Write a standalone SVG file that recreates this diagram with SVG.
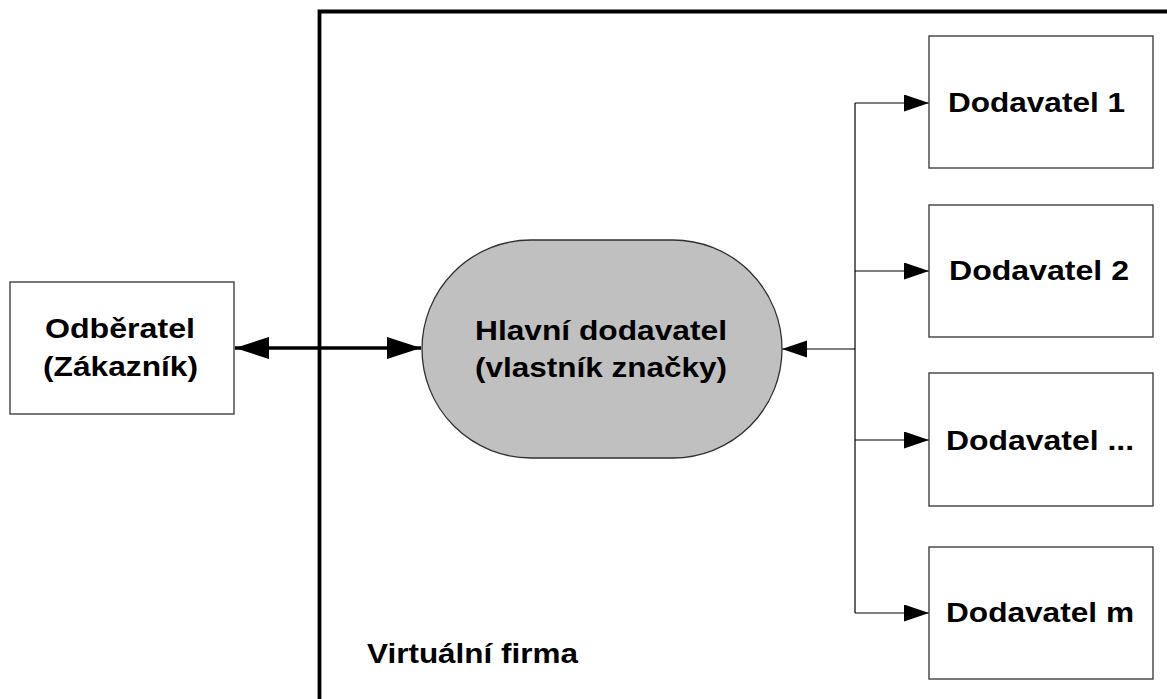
<svg xmlns="http://www.w3.org/2000/svg" width="1167" height="699" viewBox="0 0 1167 699">
<defs>
<style>
.box{fill:#fff;stroke:#404040;stroke-width:1.4}
.lbl{font-family:"Liberation Sans",Arial,sans-serif;font-weight:bold;font-size:27px;fill:#000}
.thin{fill:none;stroke:#000;stroke-width:1.2}
.thick{fill:none;stroke:#000;stroke-width:3.5}
</style>
<marker id="ah" markerUnits="userSpaceOnUse" markerWidth="26" markerHeight="18" refX="25" refY="8.5" orient="auto">
<path d="M0,0 L25,8.5 L0,17 Z" fill="#000"/>
</marker>
<marker id="ahBig" markerUnits="userSpaceOnUse" markerWidth="34" markerHeight="23" refX="34" refY="11" orient="auto-start-reverse">
<path d="M0,0 L34,11 L0,22 Z" fill="#000"/>
</marker>
</defs>
<rect width="1167" height="699" fill="#fff"/>
<g id="frame">
<path d="M319.5,699 V11.5 H1167" fill="none" stroke="#000" stroke-width="3.8"/>
<text class="lbl" x="367" y="663" textLength="211" lengthAdjust="spacingAndGlyphs">Virtuální firma</text>
</g>
<g id="connectors">
<line class="thick" x1="235" y1="348" x2="421" y2="348" marker-start="url(#ahBig)" marker-end="url(#ahBig)"/>
<line class="thin" x1="855" y1="349" x2="782" y2="349" marker-end="url(#ah)"/>
<path class="thin" d="M855,103 V613"/>
<line class="thin" x1="855" y1="103" x2="929" y2="103" marker-end="url(#ah)"/>
<line class="thin" x1="855" y1="271" x2="929" y2="271" marker-end="url(#ah)"/>
<line class="thin" x1="855" y1="440" x2="929" y2="440" marker-end="url(#ah)"/>
<line class="thin" x1="855" y1="613" x2="929" y2="613" marker-end="url(#ah)"/>
</g>
<g id="odberatel">
<rect class="box" x="10" y="282" width="224" height="132"/>
<text class="lbl" x="45" y="338" textLength="150" lengthAdjust="spacingAndGlyphs">Odběratel</text>
<text class="lbl" x="43" y="376" textLength="155" lengthAdjust="spacingAndGlyphs">(Zákazník)</text>
</g>
<g id="hlavni">
<rect x="422" y="240" width="360" height="218" rx="109" ry="109" fill="#c0c0c0" stroke="#303030" stroke-width="1.3"/>
<text class="lbl" x="475" y="340" textLength="252" lengthAdjust="spacingAndGlyphs">Hlavní dodavatel</text>
<text class="lbl" x="475" y="377" textLength="252" lengthAdjust="spacingAndGlyphs">(vlastník značky)</text>
</g>
<g id="dodavatel1">
<rect class="box" x="929" y="36" width="224" height="132"/>
<text class="lbl" x="948" y="112" textLength="177" lengthAdjust="spacingAndGlyphs">Dodavatel 1</text>
</g>
<g id="dodavatel2">
<rect class="box" x="929" y="205" width="224" height="132"/>
<text class="lbl" x="949" y="280" textLength="180" lengthAdjust="spacingAndGlyphs">Dodavatel 2</text>
</g>
<g id="dodavatel3">
<rect class="box" x="929" y="373" width="224" height="133"/>
<text class="lbl" x="946" y="450" textLength="188" lengthAdjust="spacingAndGlyphs">Dodavatel ...</text>
</g>
<g id="dodavatelm">
<rect class="box" x="929" y="547" width="224" height="132"/>
<text class="lbl" x="946" y="622" textLength="188" lengthAdjust="spacingAndGlyphs">Dodavatel m</text>
</g>
</svg>
